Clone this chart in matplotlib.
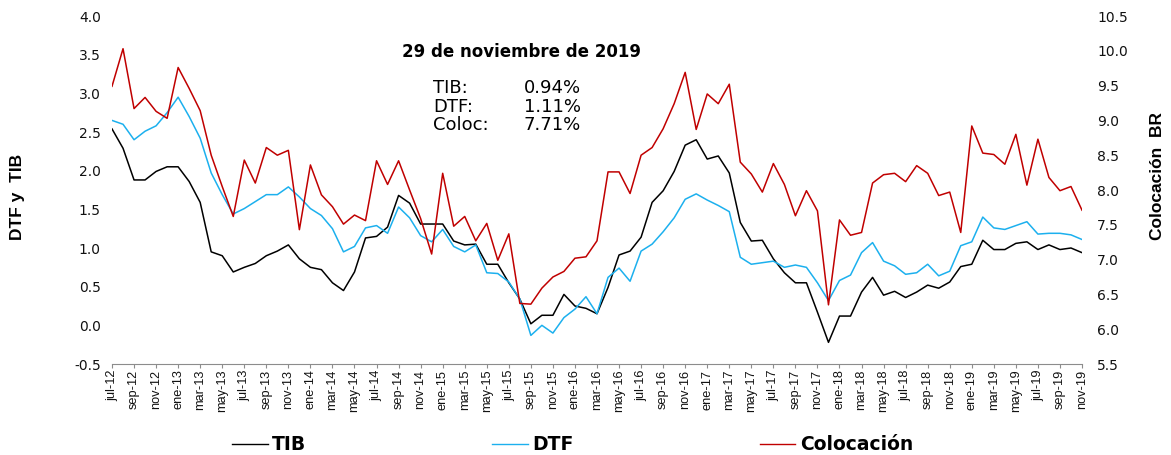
#!/usr/bin/env python3

import numpy as np
from matplotlib import pyplot as plt

# monthly series, jul-12 .. nov-19
tib = [2.54, 2.29, 1.88, 1.88, 1.99, 2.05, 2.05, 1.86, 1.59, 0.95, 0.90, 0.69,
       0.75, 0.80, 0.90, 0.96, 1.04, 0.86, 0.75, 0.72, 0.55, 0.45, 0.69, 1.13,
       1.15, 1.27, 1.68, 1.58, 1.31, 1.31, 1.31, 1.09, 1.04, 1.05, 0.79, 0.79,
       0.55, 0.34, 0.02, 0.13, 0.13, 0.40, 0.25, 0.22, 0.15, 0.49, 0.91, 0.96,
       1.14, 1.59, 1.74, 1.99, 2.33, 2.40, 2.15, 2.19, 1.97, 1.33, 1.09, 1.10,
       0.86, 0.68, 0.55, 0.55, 0.17, -0.22, 0.12, 0.12, 0.43, 0.62, 0.39, 0.44,
       0.36, 0.43, 0.52, 0.48, 0.56, 0.76, 0.79, 1.10, 0.98, 0.98, 1.06, 1.08,
       0.98, 1.04, 0.98, 1.00, 0.94]

dtf = [2.65, 2.60, 2.40, 2.51, 2.58, 2.75, 2.95, 2.70, 2.42, 1.97, 1.69, 1.44,
       1.51, 1.60, 1.69, 1.69, 1.79, 1.66, 1.51, 1.42, 1.25, 0.95, 1.02, 1.26,
       1.29, 1.19, 1.53, 1.39, 1.16, 1.08, 1.24, 1.02, 0.95, 1.04, 0.68, 0.67,
       0.56, 0.34, -0.13, 0.00, -0.10, 0.10, 0.21, 0.37, 0.15, 0.62, 0.74, 0.57,
       0.96, 1.05, 1.21, 1.39, 1.63, 1.70, 1.62, 1.55, 1.47, 0.88, 0.79, 0.81,
       0.83, 0.75, 0.78, 0.75, 0.55, 0.32, 0.58, 0.65, 0.94, 1.07, 0.83, 0.77,
       0.66, 0.68, 0.79, 0.64, 0.70, 1.03, 1.08, 1.40, 1.26, 1.24, 1.29, 1.34,
       1.18, 1.19, 1.19, 1.17, 1.11]

colocacion = [9.49, 10.03, 9.17, 9.33, 9.13, 9.03, 9.76, 9.46, 9.14, 8.50, 8.05, 7.62,
              8.43, 8.10, 8.61, 8.50, 8.57, 7.43, 8.36, 7.93, 7.76, 7.51, 7.64, 7.56,
              8.42, 8.08, 8.42, 8.00, 7.59, 7.08, 8.24, 7.48, 7.62, 7.27, 7.52, 6.99,
              7.37, 6.37, 6.36, 6.59, 6.75, 6.83, 7.02, 7.04, 7.27, 8.26, 8.26, 7.95,
              8.50, 8.61, 8.88, 9.24, 9.69, 8.87, 9.38, 9.24, 9.52, 8.40, 8.23, 7.97,
              8.38, 8.08, 7.63, 7.99, 7.70, 6.35, 7.57, 7.35, 7.39, 8.10, 8.22, 8.24,
              8.12, 8.35, 8.24, 7.92, 7.97, 7.39, 8.92, 8.53, 8.51, 8.37, 8.80, 8.07,
              8.73, 8.18, 7.99, 8.05, 7.71]

meses = ["ene", "feb", "mar", "abr", "may", "jun",
         "jul", "ago", "sep", "oct", "nov", "dic"]

ultimos = [("TIB:", "0.94%"), ("DTF:", "1.11%"), ("Coloc:", "7.71%")]

W, H = 1171, 455


def main():
  n = len(tib)
  x = np.arange(n)
  labels = []
  for i in range(n):
    m = (6 + i) % 12
    yy = 12 + (6 + i) // 12
    labels.append(f"{meses[m]}-{yy}")

  fig = plt.figure(figsize=(W / 100, H / 100), dpi=100)
  ax = fig.add_axes([112 / W, 1 - 364 / H, (1082 - 112) / W, (364 - 16) / H])
  ax2 = ax.twinx()

  ax.plot(x, tib, color="#000000", lw=1.1, label="TIB")
  ax.plot(x, dtf, color="#1CB0EE", lw=1.1, label="DTF")
  ax2.plot(x, colocacion, color="#C00000", lw=1.1, label="Colocación")

  ax.set_xlim(0, n - 1)
  ax.set_ylim(-0.5, 4.0)
  ax.set_yticks(np.arange(-0.5, 4.01, 0.5))
  ax.set_yticklabels([f"{v:.1f}" for v in np.arange(-0.5, 4.01, 0.5)])
  ax2.set_ylim(5.5, 10.5)
  ax2.set_yticks(np.arange(5.5, 10.51, 0.5))
  ax2.set_yticklabels([f"{v:.1f}" for v in np.arange(5.5, 10.51, 0.5)])

  ax.set_xticks(x[::2])
  ax.set_xticklabels(labels[::2], rotation=90, fontsize=9.2,
                     family="Liberation Sans", color="#111111")

  for a in (ax, ax2):
    for s in a.spines.values():
      s.set_visible(False)
  ax.spines["bottom"].set_visible(True)
  ax.spines["bottom"].set_color("#8C8C8C")
  ax.tick_params(axis="x", length=3, color="#8C8C8C", pad=1)
  ax.tick_params(axis="y", length=0, pad=8, labelsize=10, labelcolor="#111111")
  ax2.tick_params(axis="y", length=0, pad=11, labelsize=10, labelcolor="#111111")

  fig.text(18 / W, 1 - 197 / H, "DTF y  TIB", rotation=90, ha="center",
           va="center", fontsize=12.5, fontweight="bold", family="Liberation Sans")
  fig.text(1158 / W, 1 - 176 / H, "Colocación  BR", rotation=90, ha="center",
           va="center", fontsize=12.5, fontweight="bold", family="Liberation Sans")

  fig.text(522 / W, 1 - 52 / H, "29 de noviembre de 2019", ha="center",
           va="center", fontsize=12, fontweight="bold")
  for k, (nombre, valor) in enumerate(ultimos):
    yy = 1 - (88 + 18.5 * k) / H
    fig.text(433 / W, yy, nombre, ha="left", va="center", fontsize=13)
    fig.text(581 / W, yy, valor, ha="right", va="center", fontsize=13)

  h1, l1 = ax.get_legend_handles_labels()
  h2, l2 = ax2.get_legend_handles_labels()
  leg = fig.legend(h1 + h2, l1 + l2, loc="center left",
                   bbox_to_anchor=(232 / W, 1 - 445 / H), ncol=3, frameon=False,
                   prop={"weight": "bold", "size": 13.5},
                   handlelength=1.9, handletextpad=0.25, columnspacing=9.9,
                   borderaxespad=0, borderpad=0)
  for line in leg.get_lines():
    line.set_linewidth(1.0)

  fig.savefig("out.png", dpi=100)


if __name__ == "__main__":
  main()
